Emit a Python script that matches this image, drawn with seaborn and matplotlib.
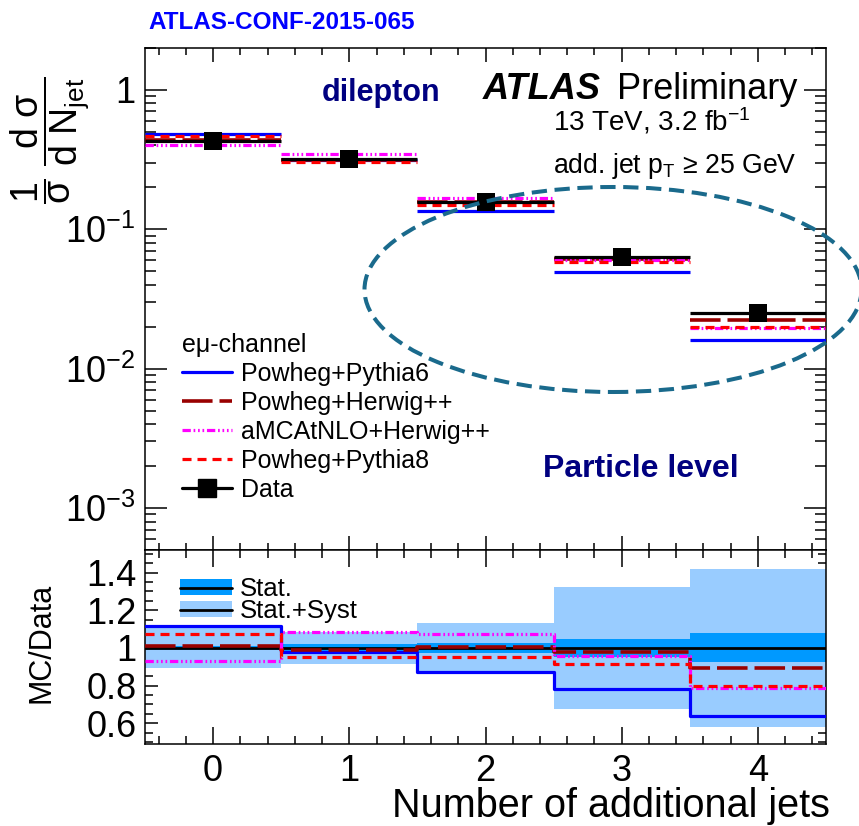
import numpy as np
import pandas as pd
import matplotlib
matplotlib.use("Agg")
import matplotlib.pyplot as plt
import seaborn as sns
from matplotlib.patches import Ellipse, Patch
from matplotlib.lines import Line2D
from matplotlib.ticker import FixedLocator, MultipleLocator, LogLocator, NullFormatter, FuncFormatter

# ---- measured normalised cross-section vs number of additional jets ----
n_jets = [0, 1, 2, 3, 4]
bin_edges = [-0.5, 0.5, 1.5, 2.5, 3.5, 4.5]
data = [0.431, 0.318, 0.156, 0.0629, 0.0250]

# ---- MC predictions ----
powheg_pythia6 = [0.482, 0.311, 0.1357, 0.0491, 0.0160]
powheg_herwig = [0.436, 0.3145, 0.1571, 0.0615, 0.0224]
amcatnlo_herwig = [0.4017, 0.3441, 0.1677, 0.0602, 0.0197]
powheg_pythia8 = [0.4625, 0.3021, 0.1488, 0.0577, 0.0200]

# ---- relative uncertainties on the data ----
stat_unc = [0.012, 0.020, 0.028, 0.046, 0.077]
total_unc = [0.105, 0.085, 0.132, 0.325, 0.420]

sns.set_theme(style="ticks")
plt.rcParams["font.family"] = ["Liberation Sans", "DejaVu Sans"]
plt.rcParams["mathtext.fontset"] = "custom"
plt.rcParams["mathtext.rm"] = "Liberation Sans"
plt.rcParams["mathtext.it"] = "Liberation Sans:italic"
plt.rcParams["mathtext.bf"] = "Liberation Sans:bold"
plt.rcParams["lines.scale_dashes"] = False
plt.rcParams["axes.linewidth"] = 1.1
for key in ["text.color", "axes.labelcolor", "xtick.color", "ytick.color", "axes.edgecolor"]:
    plt.rcParams[key] = "black"

W, H = 859, 826
fig = plt.figure(figsize=(W / 100, H / 100), dpi=100)


def fx(px):
    return px / W


def fy(py):
    return 1 - py / H


ax = fig.add_axes([fx(145), fy(550), fx(826) - fx(145), fy(47.7) - fy(550)])
rax = fig.add_axes([fx(145), fy(744), fx(826) - fx(145), fy(550) - fy(744)])

models = [
    ("Powheg+Pythia6", powheg_pythia6, "#0000ff", "-", 2.3),
    ("Powheg+Herwig++", powheg_herwig, "#990000", (0, (22, 5)), 2.6),
    ("aMCAtNLO+Herwig++", amcatnlo_herwig, "#ff00ff", (0, (6, 2, 1.2, 2, 1.2, 2, 1.2, 2)), 2.3),
    ("Powheg+Pythia8", powheg_pythia8, "#ff0000", (0, (6.5, 4.3)), 2.3),
]

edges = np.array(bin_edges)
lo, hi = edges[:-1], edges[1:]
data_arr = np.array(data)

# ---- upper panel ----
for name, vals, col, ls, lw in models:
    ax.hlines(vals, lo, hi, colors=col, linestyles=ls, linewidth=lw, zorder=3)
ax.hlines(data, lo, hi, colors="black", linewidth=2.3, zorder=4)
df = pd.DataFrame({"njet": n_jets, "xsec": data})
sns.scatterplot(data=df, x="njet", y="xsec", ax=ax, marker="s", s=170,
                color="black", edgecolor="black", linewidth=0, zorder=5, legend=False)

ax.set_yscale("log")
ax.set_xlim(-0.5, 4.5)
ax.set_ylim(5e-4, 2.0)
ax.set_xlabel("")
ax.set_ylabel("")
ax.xaxis.set_major_locator(FixedLocator(n_jets))
ax.xaxis.set_minor_locator(MultipleLocator(0.2))
ax.xaxis.set_major_formatter(NullFormatter())
ax.yaxis.set_major_locator(LogLocator(base=10, numticks=10))
ax.yaxis.set_minor_locator(LogLocator(base=10, subs=np.arange(2, 10), numticks=20))
ax.yaxis.set_minor_formatter(NullFormatter())


def log_fmt(v, pos):
    e = int(round(np.log10(v)))
    if e == 0:
        return "1"
    return r"$\mathregular{10^{%d}}$" % e


ax.yaxis.set_major_formatter(FuncFormatter(log_fmt))
ax.tick_params(axis="both", which="both", direction="in", top=True, right=True, color="black")
ax.tick_params(axis="y", which="major", length=16, width=1.1, labelsize=26, pad=7)
ax.tick_params(axis="y", which="minor", length=8, width=1.1)
ax.tick_params(axis="x", which="major", length=10, width=1.1)
ax.tick_params(axis="x", which="minor", length=5, width=1.1)

handles = [Line2D([], [], color=c, linestyle=ls, linewidth=lw) for _, _, c, ls, lw in models]
handles.append(Line2D([], [], color="black", linewidth=2.3, marker="s", markersize=13))
labels = [m[0] for m in models] + ["Data"]
leg = ax.legend(handles, labels, title="e\u03bc-channel", loc="upper left",
                bbox_to_anchor=((172 - 145) / 681, (550 - 323) / 502.3),
                frameon=False, fontsize=18, title_fontsize=18, handlelength=2.0,
                handletextpad=0.35, labelspacing=0.2, borderaxespad=0, alignment="left")

# ---- ratio panel ----
ratio_x = np.append(edges[:-1], edges[-1])
stat = np.array(stat_unc)
tot = np.array(total_unc)
rax.stairs(1 + tot, edges, baseline=1 - tot, fill=True, color="#99ccff", linewidth=0, zorder=1)
rax.stairs(1 + stat, edges, baseline=1 - stat, fill=True, color="#0099ff", linewidth=0, zorder=2)
rax.axhline(1.0, color="black", linewidth=2.0, zorder=3)

for name, vals, col, ls, lw in models:
    r = np.array(vals) / data_arr
    sns.lineplot(x=ratio_x, y=np.append(r, r[-1]), ax=rax, color=col, linestyle=ls,
                 linewidth=lw, drawstyle="steps-post", estimator=None, sort=False, zorder=4)

rax.set_xlim(-0.5, 4.5)
rax.set_ylim(0.49, 1.52)
rax.set_xlabel("")
rax.set_ylabel("")
rax.xaxis.set_major_locator(FixedLocator(n_jets))
rax.xaxis.set_minor_locator(MultipleLocator(0.2))
rax.yaxis.set_major_locator(FixedLocator([0.6, 0.8, 1.0, 1.2, 1.4]))
rax.yaxis.set_minor_locator(MultipleLocator(0.05))
rax.yaxis.set_major_formatter(FuncFormatter(lambda v, p: "1" if abs(v - 1) < 1e-9 else f"{v:.1f}"))
rax.tick_params(axis="both", which="both", direction="in", top=True, right=True, color="black")
rax.tick_params(axis="y", which="major", length=9, width=1.1, labelsize=26, pad=6)
rax.tick_params(axis="y", which="minor", length=6, width=1.1)
rax.tick_params(axis="x", which="major", length=12, width=1.1, labelsize=26, pad=7)
rax.tick_params(axis="x", which="minor", length=6, width=1.1)

band_handles = [
    (Patch(facecolor="#0099ff", edgecolor="none"), Line2D([], [], color="black", linewidth=2.0)),
    (Patch(facecolor="#99ccff", edgecolor="none"), Line2D([], [], color="black", linewidth=2.0)),
]
rleg = rax.legend(band_handles, ["Stat.", "Stat.+Syst"], loc="upper left",
                  bbox_to_anchor=((170 - 145) / 681, (744 - 567) / 194), frameon=False,
                  fontsize=18.5, handlelength=2.0, handleheight=0.6, handletextpad=0.3,
                  labelspacing=-0.08, borderaxespad=0)

# ---- axis titles ----
fig.text(fx(50), fy(140),
         r"$\dfrac{1}{\mathrm{\sigma}}\ \dfrac{\mathrm{d\ \sigma}}{\mathrm{d\ N_{jet}}}$",
         rotation=90, ha="center", va="center", fontsize=27)
fig.text(fx(42), fy(643), "MC/Data", rotation=90, ha="center", va="center", fontsize=22)
fig.text(fx(830), fy(817), "Number of additional jets", ha="right", va="baseline", fontsize=28.5)

# ---- annotations ----
fig.text(fx(148), fy(29), "ATLAS-CONF-2015-065", color="#0000ff", fontweight="bold",
         fontsize=17.5, ha="left", va="baseline")
fig.text(fx(322), fy(101), "dilepton", color="#000080", fontweight="bold",
         fontsize=22, ha="left", va="baseline")
fig.text(fx(483), fy(99), "ATLAS", fontweight="bold", fontstyle="italic",
         fontsize=26, ha="left", va="baseline")
fig.text(fx(617), fy(99), "Preliminary", fontsize=26, ha="left", va="baseline")
fig.text(fx(553), fy(131), r"13 TeV, 3.2 fb$^{\mathregular{-1}}$", fontsize=20, ha="left", va="baseline")
fig.text(fx(553), fy(173), "add. jet p$_{\\mathregular{T}}$ \u2265 25 GeV", fontsize=19.2,
         ha="left", va="baseline")
fig.text(fx(543), fy(477), "Particle level", color="#000080", fontweight="bold",
         fontsize=23, ha="left", va="baseline")

# highlight the high-multiplicity bins
fig.add_artist(Ellipse((fx(613), fy(289.5)), width=fx(497), height=205 / H,
                       transform=fig.transFigure, fill=False, edgecolor="#1a6a8c",
                       linewidth=2.9, linestyle=(0, (11, 5.5)), clip_on=False, zorder=10))

fig.savefig("out.png", dpi=100)
